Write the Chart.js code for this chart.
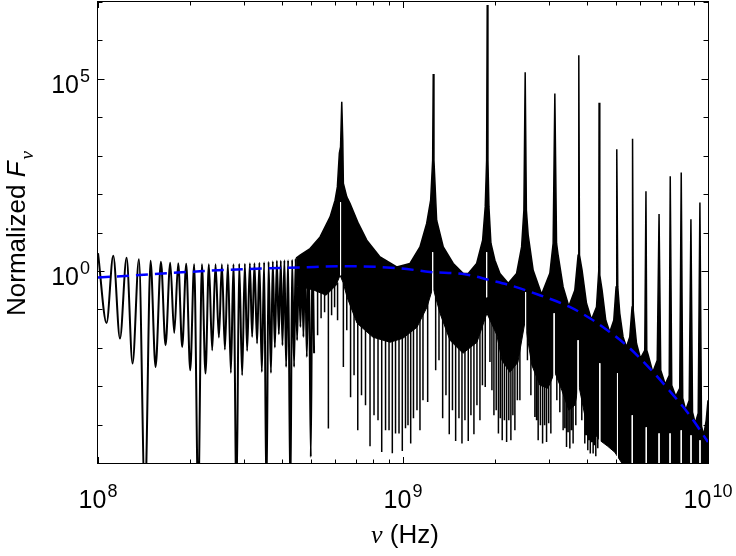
<!DOCTYPE html>
<html>
<head>
<meta charset="utf-8">
<script src="https://cdn.jsdelivr.net/npm/chart.js@4.4.1/dist/chart.umd.min.js"></script>
<style>
  html, body { margin: 0; padding: 0; background: #fff; }
  canvas { display: block; }
</style>
</head>
<body>
<canvas id="spectrum" width="736" height="556"></canvas>
<script>
// values: frequency in Hz, normalized flux density

// resolved fringes on the low-frequency side (alternating crest / trough)
const waveNu = [1.0e8, 1.067e8, 1.122e8, 1.1805e8, 1.2408e8, 1.298e8, 1.3623e8, 1.4254e8, 1.4869e8, 1.5443e8,
  1.6085e8, 1.6651e8, 1.725e8, 1.7779e8, 1.8323e8, 1.8884e8, 1.9463e8, 2.006e8, 2.0672e8, 2.1306e8,
  2.1911e8, 2.2512e8, 2.3097e8, 2.3681e8, 2.4284e8, 2.4907e8, 2.5479e8, 2.6063e8, 2.6659e8, 2.7269e8,
  2.7809e8, 2.8445e8, 2.903e8, 2.9694e8, 3.0303e8, 3.0829e8, 3.1468e8, 3.2019e8, 3.258e8, 3.3234e8,
  3.3815e8, 3.4449e8, 3.5054e8, 3.5666e8, 3.6241e8, 3.6905e8, 3.7415e8, 3.801e8, 3.8586e8, 3.9171e8,
  3.9756e8, 4.0245e8, 4.085e8, 4.1376e8, 4.2005e8, 4.2741e8, 4.3293e8, 4.3949e8, 4.4449e8, 4.4955e8,
  4.557e8, 4.6088e8, 4.6683e8, 4.7144e8, 4.7753e8, 4.8369e8, 4.9104e8, 4.9851e8, 5.0456e8, 5.1107e8];
const waveF = [2.89, 0.0443, 2.49, 0.0174, 2.21, 0.00388, 2.02, 1e-6, 1.84, 0.00316,
  1.74, 0.0116, 1.64, 0.0243, 1.59, 0.0105, 1.54, 0.00259, 1.49, 1e-6,
  1.49, 0.00213, 1.49, 0.0086, 1.49, 0.0184, 1.49, 0.00898, 1.49, 0.00221,
  1.49, 1e-6, 1.54, 0.00192, 1.54, 0.00826, 1.59, 0.0191, 1.59, 0.0129,
  1.64, 0.00234, 1.69, 1e-6, 1.74, 0.00221, 1.79, 0.0101, 1.84, 0.0225,
  1.84, 0.0116, 1.90, 0.00316, 1.90, 1e-6, 1.96, 0.00316, 2.08, 0.0157,
  2.27, 0.0348, 2.5, 0.0191, 2.8, 0.00576, 3.1, 1.43e-5, 3.4, 0.0072];

// upper edge of the unresolved fringe band, with the resonance peaks
const topNu = [4.462e8, 4.599e8, 4.959e8, 5.348e8, 5.767e8, 5.988e8, 6.093e8, 6.185e8, 6.241e8, 6.298e8,
  6.346e8, 6.375e8, 6.541e8, 6.706e8, 7.139e8, 7.606e8, 8.408e8, 9.537e8, 1.0542e9, 1.1367e9,
  1.1956e9, 1.2322e9, 1.2509e9, 1.2565e9, 1.2632e9, 1.2892e9, 1.3552e9, 1.4614e9, 1.576e9, 1.6366e9,
  1.7436e9, 1.8243e9, 1.8604e9, 1.8802e9, 1.8887e9, 1.8987e9, 1.9131e9, 1.9421e9, 2.0016e9, 2.0786e9,
  2.213e9, 2.3574e9, 2.4481e9, 2.4909e9, 2.5154e9, 2.5383e9, 2.573e9, 2.6719e9, 2.847e9, 3.0303e9,
  3.1066e9, 3.1466e9, 3.1872e9, 3.2259e9, 3.3498e9, 3.4968e9, 3.6584e9, 3.7505e9, 3.7703e9, 3.79e9,
  3.8653e9, 3.9957e9, 4.1495e9, 4.3092e9, 4.3846e9, 4.3945e9, 4.4178e9, 4.4951e9, 4.6224e9, 4.764e9,
  4.91e9, 4.996e9, 5.0224e9, 5.0604e9, 5.1373e9, 5.2666e9, 5.4033e9, 5.5397e9, 5.6366e9, 5.6578e9,
  5.6885e9, 5.8277e9, 6.0061e9, 6.204e9, 6.2603e9, 6.2982e9, 6.37e9, 6.59e9, 6.817e9, 6.9104e9,
  6.999e9, 7.241e9, 7.463e9, 7.5195e9, 7.605e9, 7.838e9, 8.078e9, 8.1702e9, 8.263e9, 8.452e9,
  8.678e9, 8.7904e9, 8.897e9, 9.08e9, 9.288e9, 9.4078e9, 9.522e9, 9.681e9, 9.865e9, 1e10];
const topF = [2.14, 2.56, 3.83, 7.68, 25.5, 69.4, 154, 1162, 1695, 2.52e4,
  2533, 189, 84.6, 56.9, 17.2, 6.30, 2.32, 1.27, 1.56, 4.22,
  17.2, 69.4, 763, 1.33e5, 763, 20.9, 4.22, 1.56, 0.856, 0.856,
  1.56, 6.30, 46.4, 763, 8.3e6, 763, 46.4, 5.26, 1.90, 0.856,
  0.478, 0.856, 4.22, 38.1, 1.49e5, 38.1, 8.51, 1.04, 0.247, 0.871,
  5.26, 4.17e4, 5.26, 2.56, 0.383, 0.1204, 0.3144, 2.56, 4.14e5, 2.56,
  1.04, 0.144, 0.0543, 0.1155, 1.04, 2.4e4, 0.773, 0.3144, 0.052, 0.0258,
  0.052, 0.383, 1477, 0.383, 0.0791, 0.0191, 0.0105, 0.0191, 0.1155, 2772,
  0.0948, 0.0131, 0.00533, 0.0086, 119, 0.0086, 0.00638, 0.0023, 0.00473, 30.5,
  0.00259, 0.00112, 0.00192, 289, 0.00106, 5.46e-4, 8.82e-4, 365, 4.84e-4, 2.36e-4,
  4.29e-4, 22.2, 2.09e-4, 1.08e-4, 1.97e-4, 60.4, 9.03e-5, 5.26e-5, 1.29e-4, 4.29e-4];

// lower edge of the solid part of the band
const baseNu = [4.462e8, 5.111e8, 5.596e8, 6.033e8, 6.218e8, 6.375e8, 6.556e8, 7.069e8, 7.975e8, 9.066e8,
  1.0e9, 1.1113e9, 1.1983e9, 1.2537e9, 1.3221e9, 1.4255e9, 1.5725e9, 1.7477e9, 1.8844e9, 2.032e9,
  2.1101e9, 2.241e9, 2.3806e9, 2.5097e9, 2.6459e9, 2.8106e9, 2.985e9, 3.1466e9, 3.3171e9, 3.4968e9,
  3.6584e9, 3.7703e9, 3.9448e9, 4.1592e9, 4.4178e9, 4.6926e9, 4.9474e9, 5.2155e9, 1e10];
const baseF = [0.424, 0.3144, 0.233, 0.424, 0.773, 0.478, 0.2065, 0.0435, 0.01877, 0.0139,
  0.01768, 0.0342, 0.1134, 0.376, 0.0791, 0.0157, 0.00719, 0.0139, 0.0791, 0.02115,
  0.00473, 0.0023, 0.00419, 0.0461, 0.0035, 0.00106, 8.82e-4, 0.0023, 7.82e-4, 2.36e-4,
  3.18e-4, 0.00106, 1.75e-4, 7.1e-5, 3.9e-5, 2.72e-5, 1.9e-5, 1e-5, 1e-5];

// deepest fringe minimum of each beat, hanging below the band
const dipNu = [5.693e8, 6.375e8, 7.107e8, 7.796e8, 8.516e8, 9.225e8, 9.947e8, 1.0598e9, 1.1367e9, 1.2047e9,
  1.2797e9, 1.349e9, 1.418e9, 1.488e9, 1.5607e9, 1.6366e9, 1.7082e9, 1.7876e9, 1.8604e9, 1.9276e9,
  1.9866e9, 2.0552e9, 2.1149e9, 2.1863e9, 2.258e9, 2.3273e9, 2.4169e9, 2.7064e9, 2.7745e9, 2.8685e9,
  2.9558e9, 3.0532e9, 3.3498e9, 3.4366e9, 3.5237e9, 3.6118e9, 3.9448e9, 4.0352e9, 4.112e9, 4.2013e9,
  4.2866e9];
const dipHi = [0.5, 0.5, 0.5, 0.5, 0.5, 0.5, 0.5, 0.5, 0.5, 0.5,
  0.5, 0.5, 0.5, 0.5, 0.5, 0.5, 0.5, 0.5, 0.5, 0.5,
  0.5, 0.5, 0.05, 0.05, 0.05, 0.05, 0.05, 0.05, 0.05, 0.05,
  0.05, 0.05, 0.01, 0.01, 0.01, 0.01, 0.01, 0.01, 0.01, 0.01,
  0.01];
const dipLo = [7.9e-5, 0.00316, 7.1e-5, 2.72e-5, 1.93e-5, 1.79e-5, 2.05e-5, 3.2e-5, 7.1e-5, 3.88e-4,
  0.00259, 1.46e-4, 5.6e-5, 3.74e-5, 3.2e-5, 3.74e-5, 5.6e-5, 1.29e-4, 9.5e-4, 0.00427,
  1.75e-4, 5.9e-5, 3.9e-5, 3.52e-5, 3.9e-5, 7.1e-5, 4.29e-4, 1.58e-4, 3.9e-5, 3.2e-5,
  3.52e-5, 5.83e-5, 7.1e-5, 2.61e-5, 2.37e-5, 3.2e-5, 3.2e-5, 2.14e-5, 1.76e-5, 1.76e-5,
  1.49e-5];

// shallower minima between them (the comb under the band)
const combNu = [5.248e8, 5.388e8, 5.532e8, 5.833e8, 5.966e8, 6.102e8, 6.541e8, 6.731e8, 6.911e8, 7.311e8,
  7.535e8, 8.035e8, 8.281e8, 8.765e8, 8.999e8, 9.451e8, 9.703e8, 1.019e9, 1.0384e9, 1.0823e9,
  1.1113e9, 1.1627e9, 1.3122e9, 1.383e9, 1.4527e9, 1.5257e9, 1.5963e9, 1.6701e9, 1.7476e9, 1.8216e9,
  1.9568e9, 2.0213e9, 2.0848e9, 2.1502e9, 2.2228e9, 2.2924e9, 2.3716e9, 2.5576e9, 2.626e9, 2.7412e9,
  2.8213e9, 2.9121e9, 3.0035e9, 3.1944e9, 3.2675e9, 3.3933e9, 3.4784e9, 3.5685e9, 3.6864e9, 3.8566e9,
  3.9898e9, 4.075e9, 4.1588e9, 4.2447e9, 4.3515e9];
const combHi = [0.5, 0.5, 0.5, 0.5, 0.5, 0.5, 0.5, 0.5, 0.5, 0.5,
  0.5, 0.5, 0.5, 0.5, 0.5, 0.5, 0.5, 0.5, 0.5, 0.5,
  0.5, 0.5, 0.5, 0.5, 0.5, 0.5, 0.5, 0.5, 0.5, 0.5,
  0.5, 0.5, 0.05, 0.05, 0.05, 0.05, 0.05, 0.05, 0.05, 0.05,
  0.05, 0.05, 0.05, 0.05, 0.01, 0.01, 0.01, 0.01, 0.01, 0.01,
  0.01, 0.01, 0.01, 0.01, 0.01];
const combLo = [0.0212, 0.0586, 0.0841, 0.0702, 0.1134, 0.052, 0.0286, 5.14e-4, 0.00192, 5.79e-4,
  3.18e-4, 1.75e-4, 1.29e-4, 7.1e-5, 7.1e-5, 5.9e-5, 5.9e-5, 8.0e-5, 9.6e-5, 1.46e-4,
  2.36e-4, 4.29e-4, 0.00473, 5.79e-4, 2.36e-4, 1.46e-4, 1.29e-4, 1.75e-4, 3.18e-4, 0.00106,
  7.82e-4, 2.36e-4, 1.46e-4, 1.29e-4, 1.29e-4, 1.75e-4, 4.29e-4, 0.00473, 5.79e-4, 1.29e-4,
  9.6e-5, 9.6e-5, 1.08e-4, 4.29e-4, 2.09e-4, 8.0e-5, 6.3e-5, 7.1e-5, 9.6e-5, 1.29e-4,
  5.26e-5, 3.9e-5, 3.46e-5, 2.89e-5, 2.42e-5];

// thin white notches under each resonance
const gapNu = [6.241e8, 1.2509e9, 1.8802e9, 2.523e9, 3.13e9, 3.7505e9, 4.4178e9, 5.0489e9, 5.6451e9, 6.2744e9,
  6.9104e9, 7.508e9, 8.1702e9, 8.797e9, 9.415e9];
const gapHi = [61.5, 3.07, 3.07, 0.279, 0.0791, 0.0157, 0.00395, 0.00217, 1.75e-4, 8.5e-5,
  5.9e-5, 5.9e-5, 7.1e-5, 5.26e-5, 3.9e-5];
const gapLo = [0.773, 0.00395, 0.2065, 7.82e-4, 3.59e-4, 7.1e-5, 1e-5, 1e-5, 1e-5, 1e-5,
  1e-5, 1e-5, 1e-5, 1e-5, 1e-5];

// smooth (dashed blue) spectrum
const smoothNu = [1e8, 1.46e8, 2.16e8, 3.15e8, 4.6e8, 6.22e8, 9.78e8, 1.226e9, 1.596e9, 1.93e9,
  2.24e9, 2.81e9, 3.52e9, 4.1e9, 4.76e9, 5.54e9, 6.44e9, 7.49e9, 8.71e9, 1e10];
const smoothF = [0.673, 0.806, 0.98, 1.13, 1.23, 1.33, 1.17, 0.94, 0.82, 0.573,
  0.425, 0.233, 0.1155, 0.0586, 0.0258, 0.0097, 0.00292, 0.00075, 0.000175, 3.5e-5];

const yLabels = [0, 5];   // decades that carry a label on the y axis
const xLabels = [8, 9, 10];

const pts = (xs, ys) => xs.map((x, i) => ({ x: x, y: ys[i] }));
const sticks = (xs, hi, lo) => xs.flatMap((x, i) => [{ x: x, y: hi[i] }, { x: x, y: lo[i] }, { x: x, y: null }]);

const SANS = '"Liberation Sans", Arial, Helvetica, sans-serif';
const SERIF = '"Liberation Serif", "Times New Roman", serif';

function power(ctx, exp, x, y, align) {
  ctx.font = '25px ' + SANS;
  const wb = ctx.measureText('10').width;
  ctx.font = '18px ' + SANS;
  const we = ctx.measureText(String(exp)).width;
  let x0 = align === 'right' ? x - wb - we - 1 : x - (wb + we + 1) / 2;
  ctx.textAlign = 'left';
  ctx.font = '25px ' + SANS;
  ctx.fillText('10', x0, y);
  ctx.font = '18px ' + SANS;
  ctx.fillText(String(exp), x0 + wb + 1, y - 11);
}

const axesPlugin = {
  id: 'axesPlugin',
  afterDraw(chart) {
    const { ctx, chartArea: a } = chart;
    const sx = chart.scales.x, sy = chart.scales.y;
    ctx.save();
    ctx.strokeStyle = '#000';
    ctx.lineWidth = 1;
    ctx.strokeRect(a.left - 0.5, a.top - 0.5, a.right - a.left + 1, a.bottom - a.top + 1);

    ctx.beginPath();
    for (let e = 8; e <= 10; e++) {
      for (let m = 1; m <= 9; m++) {
        if (e === 10 && m > 1) break;
        const px = Math.round(sx.getPixelForValue(m * Math.pow(10, e))) + 0.5;
        const len = m === 1 ? 6 : 3.5;
        ctx.moveTo(px, a.bottom); ctx.lineTo(px, a.bottom - len);
        ctx.moveTo(px, a.top); ctx.lineTo(px, a.top + len);
      }
    }
    for (let e = -5; e <= 7; e++) {
      const py = Math.round(sy.getPixelForValue(Math.pow(10, e))) + 0.5;
      const len = yLabels.includes(e) ? 6.5 : 4.5;
      ctx.moveTo(a.left, py); ctx.lineTo(a.left + len, py);
      ctx.moveTo(a.right, py); ctx.lineTo(a.right - len, py);
    }
    ctx.stroke();

    ctx.fillStyle = '#000';
    ctx.textBaseline = 'alphabetic';
    yLabels.forEach(e => {
      const py = sy.getPixelForValue(Math.pow(10, e));
      power(ctx, e, 90, py + 14.5, 'right');
    });
    xLabels.forEach(e => {
      const px = sx.getPixelForValue(Math.pow(10, e));
      power(ctx, e, px, 508, 'center');
    });

    // x title
    ctx.font = 'italic 26px ' + SERIF;
    const wn = ctx.measureText('\u03bd').width;
    ctx.font = '26px ' + SANS;
    const wr = ctx.measureText(' (Hz)').width;
    let tx = 405 - (wn + wr) / 2;
    ctx.textAlign = 'left';
    ctx.font = 'italic 26px ' + SERIF;
    ctx.fillText('\u03bd', tx, 542.5);
    ctx.font = '26px ' + SANS;
    ctx.fillText(' (Hz)', tx + wn, 542.5);

    // y title
    ctx.translate(25, 233.5);
    ctx.rotate(-Math.PI / 2);
    ctx.font = '26px ' + SANS;
    const w1 = ctx.measureText('Normalized ').width;
    ctx.font = 'italic 26px ' + SANS;
    const w2 = ctx.measureText('F').width;
    ctx.font = 'italic 19px ' + SERIF;
    const w3 = ctx.measureText('\u03bd').width;
    let ty = -(w1 + w2 + w3 + 2) / 2;
    ctx.font = '26px ' + SANS;
    ctx.fillText('Normalized ', ty, 0);
    ctx.font = 'italic 26px ' + SANS;
    ctx.fillText('F', ty + w1, 0);
    ctx.font = 'italic 19px ' + SERIF;
    ctx.fillText('\u03bd', ty + w1 + w2 + 2, 8);
    ctx.restore();
  }
};

const common = { pointRadius: 0, clip: 0, fill: false };

new Chart(document.getElementById('spectrum').getContext('2d'), {
  type: 'line',
  data: {
    datasets: [
      { ...common, data: pts(smoothNu, smoothF), borderColor: '#0000ff', borderWidth: 2.5,
        borderDash: [12, 7], cubicInterpolationMode: 'monotone' },
      { ...common, data: sticks(gapNu, gapHi, gapLo), borderColor: '#ffffff', borderWidth: 1 },
      { ...common, data: sticks(dipNu, dipHi, dipLo).concat(sticks(combNu, combHi, combLo)),
        borderColor: '#000000', borderWidth: 1.5 },
      { ...common, data: pts(waveNu, waveF), borderColor: '#000000', borderWidth: 2,
        cubicInterpolationMode: 'monotone' },
      { ...common, data: pts(topNu, topF), borderColor: '#000000', borderWidth: 1.5,
        fill: '+1', backgroundColor: '#000000' },
      { ...common, data: pts(baseNu, baseF), borderColor: '#000000', borderWidth: 1 }
    ]
  },
  options: {
    animation: false,
    responsive: false,
    devicePixelRatio: 1,
    layout: { padding: { left: 98, right: 28, top: 2, bottom: 93 } },
    plugins: { legend: { display: false }, tooltip: { enabled: false } },
    scales: {
      x: { type: 'logarithmic', min: 1e8, max: 1e10, display: false },
      y: { type: 'logarithmic', min: 1e-5, max: 1e7, display: false }
    }
  },
  plugins: [axesPlugin]
});
</script>
</body>
</html>
